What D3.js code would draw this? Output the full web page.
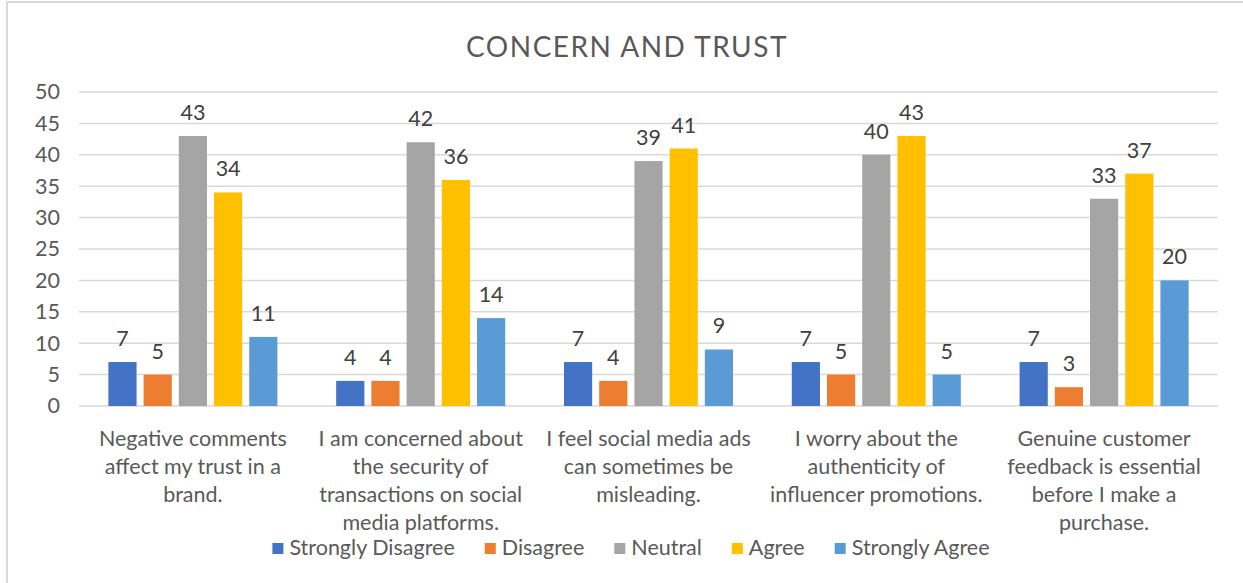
<!DOCTYPE html>
<html>
<head>
<meta charset="utf-8">
<script src="https://cdn.jsdelivr.net/npm/d3@7"></script>
<style>
  html, body { margin: 0; padding: 0; background: #fff; }
  svg { display: block; font-family: Lato, "Open Sans", sans-serif; }
</style>
</head>
<body>
<svg id="chart" width="1243" height="583"></svg>
<script>
// categories (line breaks as in the source chart)
const categories = [
    "Negative comments\naffect my trust in a\nbrand.",
    "I am concerned about\nthe security of\ntransactions on social\nmedia platforms.",
    "I feel social media ads\ncan sometimes be\nmisleading.",
    "I worry about the\nauthenticity of\ninfluencer promotions.",
    "Genuine customer\nfeedback is essential\nbefore I make a\npurchase."
];

const seriesNames = ["Strongly Disagree", "Disagree", "Neutral", "Agree", "Strongly Agree"];
const seriesColors = ["#4472C4", "#ED7D31", "#A5A5A5", "#FFC000", "#5B9BD5"];

const stronglyDisagree = [7, 4, 7, 7, 7];
const disagree = [5, 4, 4, 5, 3];
const neutral = [43, 42, 39, 40, 33];
const agree = [34, 36, 41, 43, 37];
const stronglyAgree = [11, 14, 9, 5, 20];

const yTicks = [0, 5, 10, 15, 20, 25, 30, 35, 40, 45, 50];

const series = [stronglyDisagree, disagree, neutral, agree, stronglyAgree];

const svg = d3.select('#chart');

const textColor = '#595959';
const gridColor = '#d9d9d9';
const fontSize = '21.5px';

// chart border (Excel chart area)
svg.append('rect')
    .attr('x', 7).attr('y', 2)
    .attr('width', 1260).attr('height', 600)
    .attr('fill', '#fff')
    .attr('stroke', gridColor)
    .attr('stroke-width', 2);

const plot = {left: 79, right: 1218, top: 92, bottom: 406};

const y = d3.scaleLinear().domain([0, 50]).range([plot.bottom, plot.top]);
const x0 = d3.scaleBand().domain(d3.range(categories.length)).range([plot.left, plot.right]);
const x1 = d3.scaleBand().domain(d3.range(seriesNames.length))
    .range([x0.bandwidth() * 0.129, x0.bandwidth() * 0.871])
    .paddingInner(0.2);

// title
svg.append('text')
    .attr('x', 627).attr('y', 57)
    .attr('text-anchor', 'middle')
    .attr('fill', textColor)
    .style('font-size', '28px')
    .style('letter-spacing', '1.5px')
    .text('CONCERN AND TRUST');

// gridlines
svg.append('g')
    .selectAll('line')
    .data(yTicks)
    .join('line')
    .attr('x1', plot.left).attr('x2', plot.right)
    .attr('y1', (d) => y(d)).attr('y2', (d) => y(d))
    .attr('stroke', gridColor)
    .attr('stroke-width', 1.5);

// y axis labels
const yAxis = svg.append('g')
    .attr('transform', `translate(${plot.left - 8},0)`)
    .call(d3.axisLeft(y).tickValues(yTicks).tickSize(0).tickPadding(11));
yAxis.select('.domain').remove();
yAxis.selectAll('text')
    .attr('fill', textColor)
    .style('font-size', fontSize)
    .style('font-family', 'Lato, "Open Sans", sans-serif');

// bars
const groups = svg.append('g')
    .selectAll('g')
    .data(categories.map((c, i) => i))
    .join('g')
    .attr('transform', (i) => `translate(${x0(i)},0)`);

const cells = groups.selectAll('g')
    .data((i) => series.map((s, k) => ({k: k, v: s[i]})))
    .join('g');

cells.append('rect')
    .attr('x', (d) => x1(d.k))
    .attr('width', x1.bandwidth())
    .attr('y', (d) => y(d.v))
    .attr('height', (d) => y(0) - y(d.v))
    .attr('fill', (d) => seriesColors[d.k]);

cells.append('text')
    .attr('x', (d) => x1(d.k) + x1.bandwidth() / 2)
    .attr('y', (d) => y(d.v) - 16)
    .attr('text-anchor', 'middle')
    .attr('fill', '#404040')
    .style('font-size', fontSize)
    .text((d) => d.v);

// category labels
const catLabels = svg.append('g')
    .selectAll('text')
    .data(categories)
    .join('text')
    .attr('x', (d, i) => x0(i) + x0.bandwidth() / 2)
    .attr('y', 446)
    .attr('text-anchor', 'middle')
    .attr('fill', textColor)
    .style('font-size', fontSize);

catLabels.selectAll('tspan')
    .data((d) => d.split('\n'))
    .join('tspan')
    .attr('x', function () { return this.parentNode.getAttribute('x'); })
    .attr('dy', (d, j) => j === 0 ? 0 : 28)
    .text((d) => d);

// legend
const legend = svg.append('g');
const items = legend.selectAll('g')
    .data(seriesNames)
    .join('g');

items.append('rect')
    .attr('width', 11).attr('height', 11)
    .attr('y', -12)
    .attr('fill', (d, i) => seriesColors[i]);

items.append('text')
    .attr('x', 17)
    .attr('fill', textColor)
    .style('font-size', fontSize)
    .text((d) => d);

let cursor = 0;
items.each(function () {
    const w = this.querySelector('text').getComputedTextLength() + 17;
    d3.select(this).attr('transform', `translate(${cursor},0)`);
    cursor += w + 30;
});
cursor -= 30;
legend.attr('transform', `translate(${631 - cursor / 2},555)`);
</script>
</body>
</html>
